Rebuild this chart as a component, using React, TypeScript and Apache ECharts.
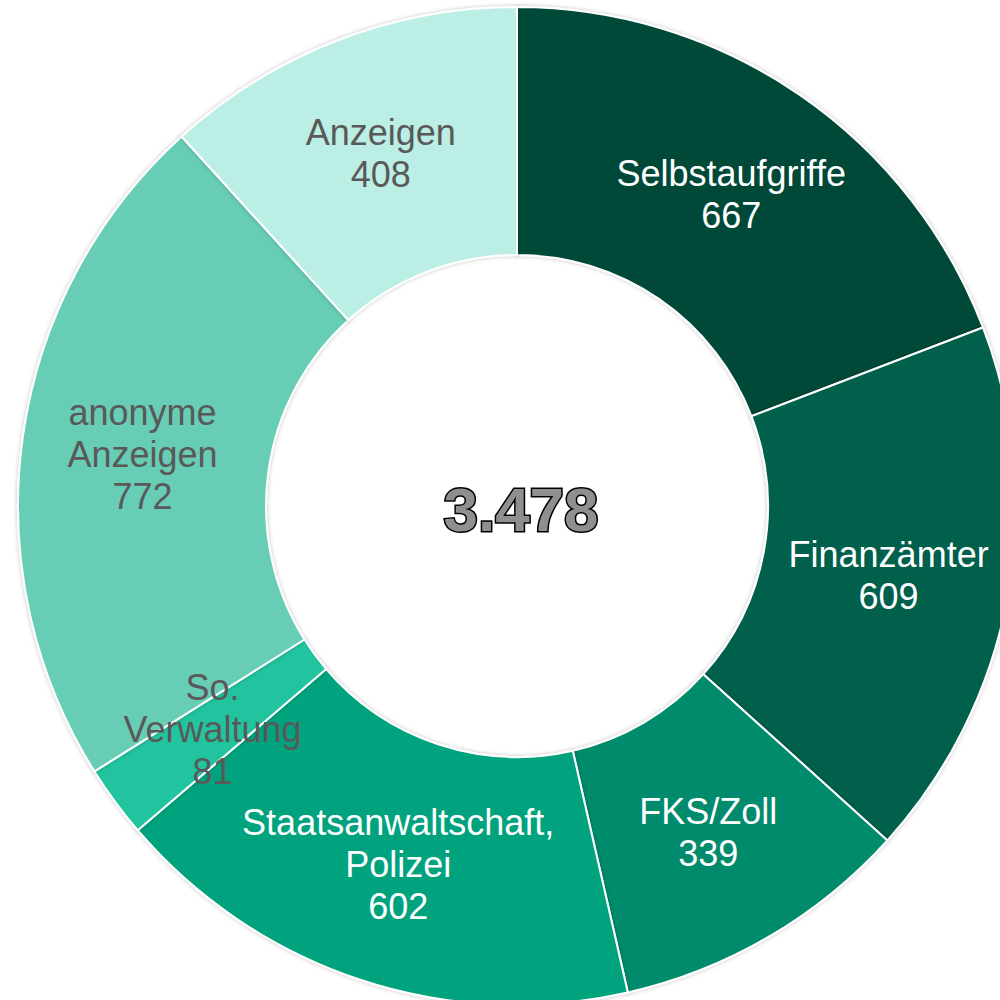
import React, { useEffect, useRef } from "react";
import * as echarts from "echarts";

const categories = [
  "Selbstaufgriffe",
  "Finanzämter",
  "FKS/Zoll",
  "Staatsanwaltschaft,\nPolizei",
  "So.\nVerwaltung",
  "anonyme\nAnzeigen",
  "Anzeigen",
];
const values = [667, 609, 339, 602, 81, 772, 408];
const colors = ["#024a39", "#03604b", "#008b6c", "#00a37e", "#22c49f", "#67cdb5", "#bbefe5"];
const labelColors = ["#ffffff", "#ffffff", "#ffffff", "#ffffff", "#595959", "#595959", "#595959"];
const totalLabel = "3.478";

export default function App() {
  const ref = useRef<HTMLDivElement>(null);
  useEffect(() => {
    document.body.style.margin = "0";
    const chart = echarts.init(ref.current!, null, { renderer: "svg" });
    chart.setOption({
      animation: false,
      backgroundColor: "#ffffff",
      series: [
        {
          type: "pie",
          center: [517, 506],
          radius: [251, 499],
          startAngle: 90,
          clockwise: true,
          avoidLabelOverlap: false,
          itemStyle: {
            borderColor: "#ffffff",
            borderWidth: 2,
            shadowBlur: 4,
            shadowColor: "rgba(0,0,0,0.25)",
          },
          label: {
            show: true,
            position: "inside",
            formatter: "{b}\n{c}",
            fontFamily: "Liberation Sans, Arial, sans-serif",
            fontSize: 36,
            lineHeight: 42,
            align: "center",
          },
          labelLine: { show: false },
          emphasis: { disabled: true },
          data: categories.map((name, i) => ({
            name,
            value: values[i],
            itemStyle: { color: colors[i] },
            label: { color: labelColors[i] },
          })),
        },
      ],
      graphic: [
        {
          type: "text",
          x: 521,
          y: 509,
          style: {
            text: totalLabel,
            fill: "#8f8f8f",
            stroke: "#000000",
            lineWidth: 3,
            font: "bold 62px 'Liberation Sans', Arial, sans-serif",
            textAlign: "center",
            textVerticalAlign: "middle",
          },
        },
      ],
    });
    return () => chart.dispose();
  }, []);
  return <div ref={ref} style={{ width: 1000, height: 1000 }} />;
}
